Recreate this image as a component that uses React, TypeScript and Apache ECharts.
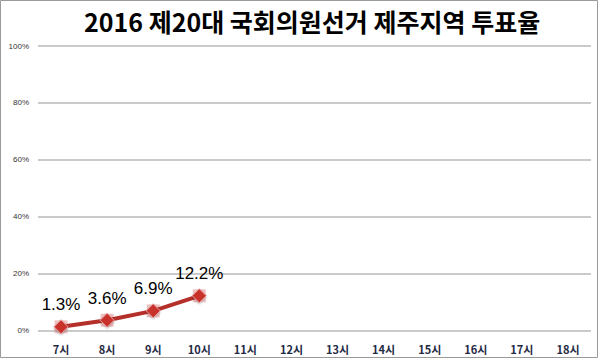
import React, { useEffect, useRef } from "react";
import * as echarts from "echarts";

const titleText = "2016 제20대 국회의원선거 제주지역 투표율";
const categories = ["7시", "8시", "9시", "10시", "11시", "12시", "13시", "14시", "15시", "16시", "17시", "18시"];
const turnout = [1.3, 3.6, 6.9, 12.2];
const yTicks = [0, 20, 40, 60, 80, 100];

export default function App() {
  const ref = useRef<HTMLDivElement>(null);
  useEffect(() => {
    document.body.style.margin = "0";
    const chart = echarts.init(ref.current!, null, { renderer: "svg" });
    chart.setOption({
      animation: false,
      backgroundColor: "#ffffff",
      title: {
        text: titleText,
        left: 84,
        top: 8,
        padding: 0,
        textStyle: {
          fontFamily: "Noto Sans CJK KR",
          fontWeight: "bold",
          fontSize: 25,
          color: "#000000",
        },
      },
      graphic: [
        {
          type: "rect",
          shape: { x: 0.5, y: 0.5, width: 597, height: 357 },
          style: { fill: "none", stroke: "#9a9a9a", lineWidth: 1 },
          silent: true,
        },
      ],
      grid: { left: 38, right: 9, top: 46, bottom: 29.5, containLabel: false },
      xAxis: {
        type: "category",
        data: categories,
        boundaryGap: true,
        axisLine: { show: false },
        axisTick: { show: false },
        axisLabel: {
          margin: 13,
          fontFamily: "Noto Sans CJK KR",
          fontWeight: "bold",
          fontSize: 11,
          color: "#1f2a44",
        },
      },
      yAxis: {
        type: "value",
        min: yTicks[0],
        max: yTicks[yTicks.length - 1],
        interval: 20,
        axisLine: { show: false },
        axisTick: { show: false },
        splitLine: { lineStyle: { color: "#b8b8b8", width: 1.5 } },
        axisLabel: {
          formatter: "{value}%",
          fontFamily: "Liberation Sans",
          fontSize: 8,
          color: "#333333",
          margin: 9,
        },
      },
      series: [
        {
          type: "scatter",
          data: turnout,
          symbol: "rect",
          symbolSize: 13,
          itemStyle: { color: "rgba(230,150,150,0.7)" },
          z: 1,
          silent: true,
        },
        {
          type: "line",
          data: turnout,
          symbol: "diamond",
          symbolSize: 14,
          lineStyle: { color: "#b5302b", width: 4 },
          itemStyle: {
            color: "#c9302c",
            borderColor: "#e8a0a0",
            borderWidth: 1,
            shadowColor: "rgba(0,0,0,0.3)",
            shadowBlur: 2,
            shadowOffsetY: 1,
          },
          z: 3,
          label: {
            show: true,
            position: "top",
            distance: 6,
            formatter: (p: any) => p.value + "%",
            fontFamily: "Liberation Sans",
            fontSize: 17,
            color: "#000000",
          },
        },
      ],
    });
    return () => chart.dispose();
  }, []);
  return <div ref={ref} style={{ width: 600, height: 360 }} />;
}
